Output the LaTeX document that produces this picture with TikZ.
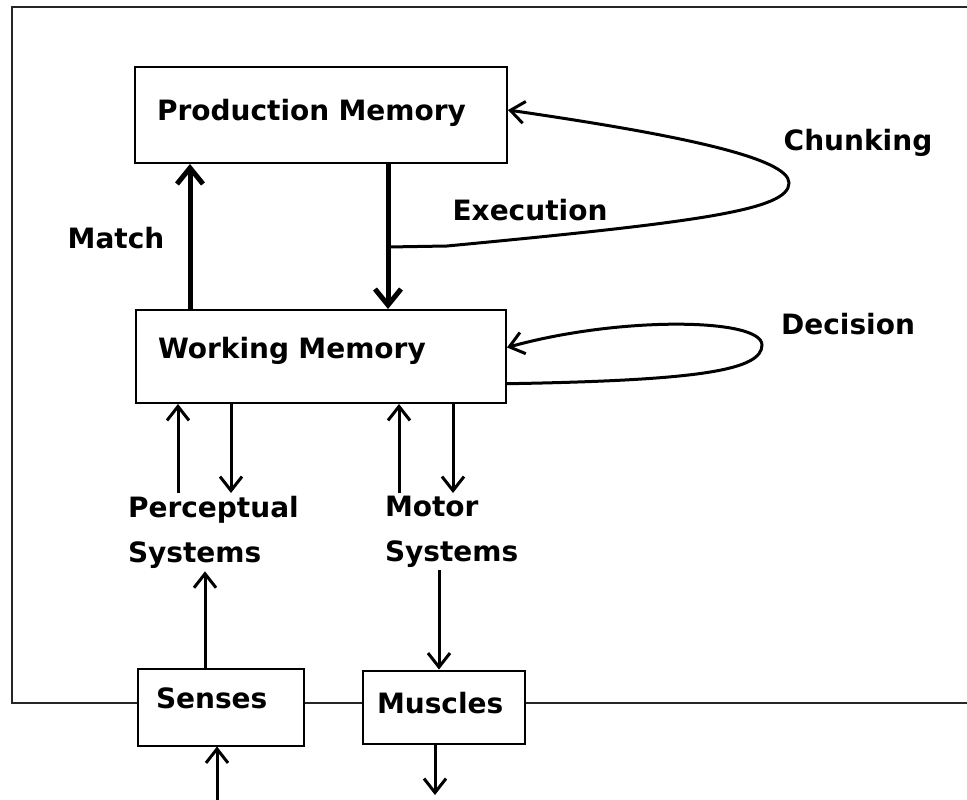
\documentclass[tikz,border=0pt]{standalone}
\usepackage{fontspec}
\setmainfont{DejaVu Sans}
\usetikzlibrary{arrows.meta, positioning}

\begin{document}
\begin{tikzpicture}[
    x=1pt, y=-1pt,
    node distance=57pt,
    box/.style={
        rectangle,
        draw,
        line width=2pt,
        align=left,
        inner ysep=0pt,
        font=\bfseries\fontsize{28pt}{45pt}\selectfont
    },
    tag/.style={
        inner sep=0pt,
        outer sep=3pt,
        align=left,
        font=\bfseries\fontsize{28pt}{45pt}\selectfont
    },
    arrow/.style={-{Straight Barb[length=14pt,width=22pt]}, line width=3pt},
    bigarrow/.style={-{Straight Barb[length=16pt,width=26pt]}, line width=5pt},
    frame/.style={line width=2pt, black!85}
]

\useasboundingbox (0,0) rectangle (967,800);

% Memories
\node (pm) [box, text width=328pt, inner xsep=22pt, text depth=10pt, minimum height=96pt] at (321,115)
{Production Memory};

\node (wm) [box, text width=326pt, inner xsep=22pt, text depth=18pt, minimum height=93pt, below=145pt of pm]
{Working Memory};

% Periphery
\node (senses) [box, text width=130pt, inner xsep=18pt, text depth=18pt, minimum height=77pt] at (221,707)
{Senses};

\node (muscles) [box, text width=134pt, inner xsep=14pt, text depth=8pt, minimum height=73pt, right=of senses]
{Muscles};

% Labels
\node (match) [tag] at (116,238) {Match};
\node (exec) [tag] at (530,210) {Execution};
\node (chunk) [tag] at (858,143) {Chunking};
\node (decide) [tag] at (848,324) {Decision};
\node (percept) [tag, anchor=north west] at (125,493) {Perceptual\\Systems};
\node (motor) [tag, anchor=north west] at (382,493) {Motor\\Systems};

% Frame
\coordinate (tl) at (12,7);
\coordinate (bl) at (12,703);
\coordinate (tr) at (967,7);
\coordinate (br) at (967,703);
\draw [frame] (tr) -- (tl) -- (bl) -- (bl -| senses.west);
\draw [frame] (bl -| senses.east) -- (bl -| muscles.west);
\draw [frame] (bl -| muscles.east) -- (br);

% Arrows
\draw [bigarrow] ([xshift=-131pt]wm.north) -- ([xshift=-131pt]pm.south);
\draw [bigarrow] ([xshift=67pt]pm.south) -- ([xshift=67pt]wm.north);

\coordinate (split) at ([xshift=67pt,yshift=-83pt]pm.south);
\draw [arrow] (split) -- ++(59,-1)
    .. controls (700,222) and (789,210) .. (789,183)
    .. controls (789,158) and (680,135) .. ([yshift=5pt]pm.east);
\draw [arrow] ([yshift=-27pt]wm.east) -- ++(12,0)
    .. controls (700,380) and (762,370) .. (762,345)
    .. controls (762,318) and (620,316) .. ([yshift=9pt]wm.east);

\draw [arrow] ([xshift=-143pt]wm.south |- percept.north) -- ([xshift=-143pt]wm.south);
\draw [arrow] ([xshift=-90pt]wm.south) -- ([xshift=-90pt]wm.south |- percept.north);
\draw [arrow] ([xshift=78pt]wm.south |- motor.north) -- ([xshift=78pt]wm.south);
\draw [arrow] ([xshift=132pt]wm.south) -- ([xshift=132pt]wm.south |- motor.north);

\draw [arrow] ([xshift=-16pt]senses.north) -- ([xshift=-16pt]senses.north |- percept.south);
\draw [arrow] ([xshift=-5pt]muscles.north |- motor.south) -- ([xshift=-5pt]muscles.north);

\coordinate (stimulus) at (217,800);
\coordinate (response) at (435,795);
\draw [arrow] (stimulus) -- (stimulus |- senses.south);
\draw [arrow] (response |- muscles.south) -- (response);

\end{tikzpicture}
\end{document}
